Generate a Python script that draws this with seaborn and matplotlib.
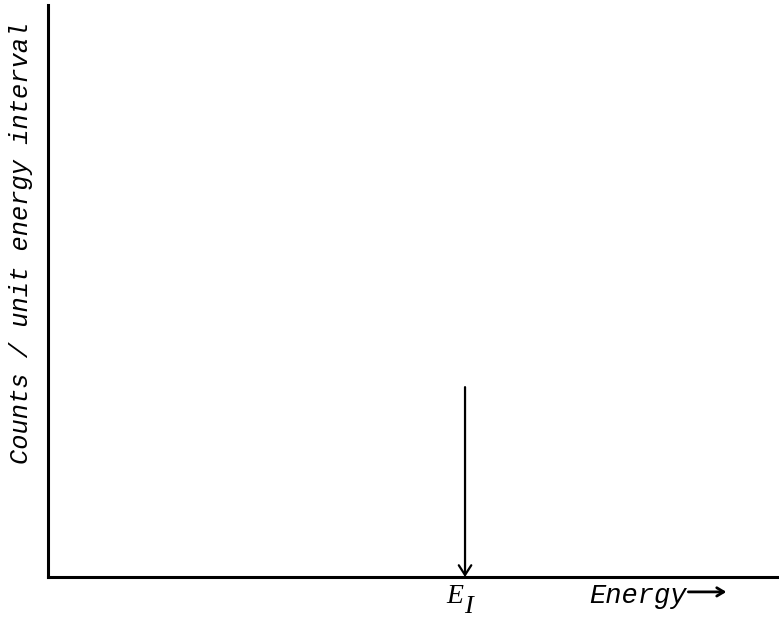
import matplotlib
matplotlib.use("Agg")
import matplotlib.pyplot as plt
import seaborn as sns

# Axis extents (arbitrary energy / count units)
energy_range = [0.0, 10.0]
count_range = [0.0, 10.0]

# Monoenergetic line at E_I
line_energy = [5.705]
line_height = [3.32]
line_label = "E"
line_label_sub = "I"

x_label = "Energy"
y_label = "Counts / unit energy interval"

sns.set_style("white")
plt.rcParams["font.family"] = ["Liberation Mono", "DejaVu Sans Mono"]
plt.rcParams["text.color"] = "black"
plt.rcParams["axes.labelcolor"] = "black"

fig = plt.figure(figsize=(7.79, 6.22), dpi=100)
ax = fig.add_axes([0.0616, 0.0723, 1 - 0.0616, 0.9196])
ax.set_xlim(*energy_range)
ax.set_ylim(*count_range)
ax.set_xticks([])
ax.set_yticks([])
sns.despine(ax=ax, top=True, right=True)
for side in ("left", "bottom"):
    ax.spines[side].set_linewidth(2.2)
    ax.spines[side].set_color("black")

# Spectral line drawn as a downward arrow onto the energy axis
for e, h in zip(line_energy, line_height):
    ax.annotate("", xy=(e, count_range[0]), xytext=(e, h),
                arrowprops=dict(arrowstyle="->,head_length=0.7,head_width=0.45",
                                lw=1.6, color="black", shrinkA=0, shrinkB=0))
    ax.text(e - 0.03, -0.13, line_label, ha="right", va="top",
            fontsize=20, fontstyle="italic", family="Liberation Serif")
    ax.text(e - 0.01, -0.33, line_label_sub, ha="left", va="top",
            fontsize=19, fontstyle="italic", family="Liberation Serif")

# Energy axis label with its direction arrow
ax.text(7.4, -0.1, x_label, ha="left", va="top", fontsize=19.5,
        fontstyle="italic")
ax.annotate("", xy=(9.28, -0.26), xytext=(8.76, -0.26),
            arrowprops=dict(arrowstyle="->,head_length=0.5,head_width=0.3",
                            lw=2.0, color="black", shrinkA=0, shrinkB=0),
            annotation_clip=False)

ax.set_ylabel(y_label, fontsize=18.3, fontstyle="italic", rotation=90,
              va="center", ha="center")
ax.yaxis.set_label_coords(-0.037, 0.584)

fig.savefig("out.png", dpi=100)
